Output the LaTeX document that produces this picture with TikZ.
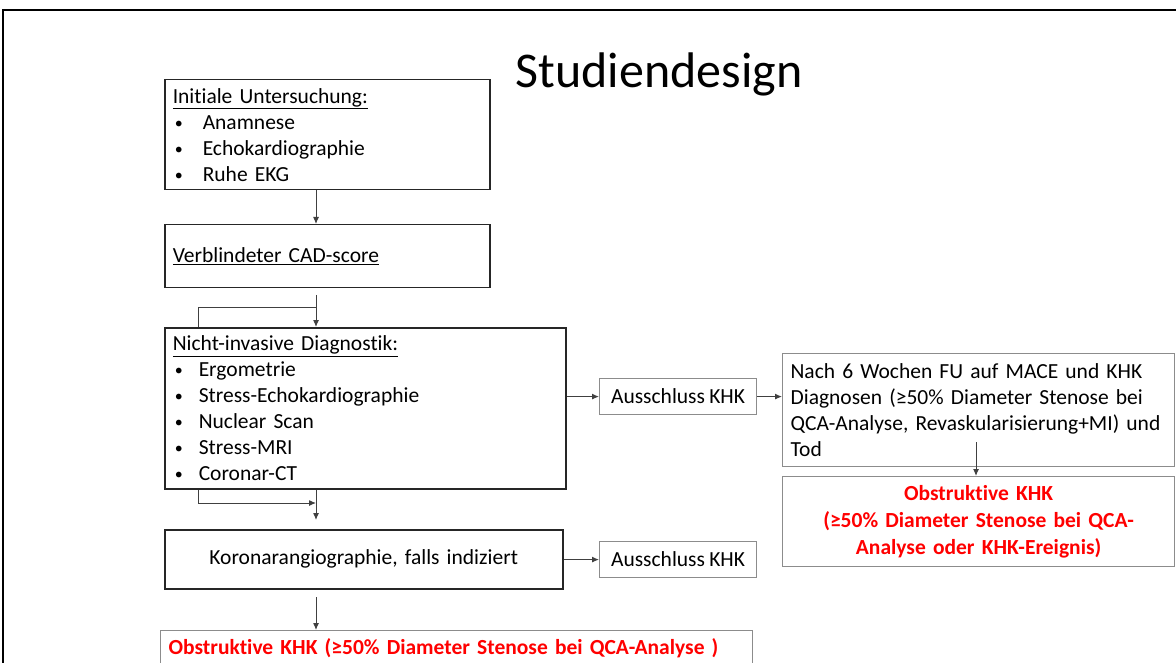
\documentclass[tikz,border=0pt]{standalone}
\usepackage{fontspec}
\setmainfont[Ligatures=NoCommon, WordSpace=0.88]{Carlito}
\usetikzlibrary{positioning, calc, arrows.meta}
\definecolor{boxgray}{HTML}{8C8C8C}
\definecolor{linegray}{HTML}{404040}
\definecolor{khkred}{HTML}{FF0000}
\tikzstyle{Box} = [draw=black!85, line width=1.5pt, anchor=north west, align=left,
inner xsep=8pt, inner ysep=0pt, font=\fontsize{21.5}{26}\selectfont]
\tikzstyle{GrayBox} = [Box, draw=boxgray, line width=1.2pt]
\tikzstyle{RedText} = [text=khkred, font=\fontsize{21.5}{27}\selectfont\bfseries]
\tikzstyle{Arrow} = [draw=linegray, line width=1pt, -{Latex[length=7pt, width=6pt]}]
\tikzstyle{Line} = [draw=linegray, line width=1pt]
\newcommand{\bul}[2][30pt]{\makebox[#1][l]{\hspace*{2pt}\raisebox{1pt}{\fontsize{16}{16}\selectfont\textbullet}}#2}

\begin{document}
\begin{tikzpicture}[x=1pt, y=-1pt]
    \clip (0,0) rectangle (1176,663);
    \draw[line width=2pt] (3,663) -- (3,10) -- (1176,10);
    \node[anchor=base, font=\fontsize{50}{60}\selectfont] (0) at (659,88) {Studiendesign};

    \node[Box, text width=309pt, minimum width=325pt, minimum height=110pt] (1) at (164,79)
        {\underline{Initiale Untersuchung:}\\ \bul{Anamnese}\\ \bul{Echokardiographie}\\ \bul{Ruhe EKG}};
    \node[Box, text width=309pt, minimum width=325pt, minimum height=63pt] (2) at (164,224)
        {\underline{Verblindeter CAD-score}};
    \node[Box, text width=385pt, minimum width=401pt, minimum height=161pt] (3) at (164,327)
        {\underline{Nicht-invasive Diagnostik:}\\ \bul[26pt]{Ergometrie}\\ \bul[26pt]{Stress-Echokardiographie}\\
        \bul[26pt]{Nuclear Scan}\\ \bul[26pt]{Stress-MRI}\\ \bul[26pt]{Coronar-CT}};
    \node[Box, align=center, text width=382pt, minimum width=398pt, minimum height=59pt] (4) at (164,529)
        {Koronarangiographie, falls indiziert};
    \node[GrayBox, RedText, text width=576pt, minimum width=592pt, minimum height=36pt] (5) at (160,630)
        {Obstruktive KHK (≥50\% Diameter Stenose bei QCA-Analyse )};
    \node[GrayBox, minimum width=157pt, minimum height=36pt] (6) at (599,378) {Ausschluss KHK};
    \node[GrayBox, minimum width=157pt, minimum height=36pt] (7) at (599,541) {Ausschluss KHK};
    \node[GrayBox, text width=376pt, minimum width=392pt, minimum height=113pt] (8) at (782,353)
        {Nach 6 Wochen FU auf MACE und KHK\\ Diagnosen (≥50\% Diameter Stenose bei\\
        QCA-Analyse, Revaskularisierung+MI) und\\ Tod};
    \node[GrayBox, RedText, align=center, text width=376pt, minimum width=392pt, minimum height=90pt] (9) at (782,476)
        {Obstruktive KHK\\ (≥50\% Diameter Stenose bei QCA-\\ Analyse oder KHK-Ereignis)};

    \coordinate (c) at (316,0);
    \coordinate (a1) at (316,295);
    \coordinate (k1) at (198,307);
    \coordinate (k2) at (198,503);
    \coordinate (a2) at (316,520);
    \coordinate (a3) at (316,597);
    \coordinate (a4) at (976,442);

    \draw[Arrow] (1.south -| c) -- (2.north -| c);
    \draw[Arrow] (a1) -- (3.north -| a1);
    \draw[Line] (3.north -| k1) -- (k1) -- (k1 -| a1);
    \draw[Arrow] (3.south -| k2) |- (k2 -| a2);
    \draw[Arrow] (3.south -| a2) -- (a2);
    \draw[Arrow] (a3) -- (5.north -| a3);
    \draw[Arrow] (6.west -| 3.east) -- (6.west);
    \draw[Arrow] (6.east) -- (6.east -| 8.west);
    \draw[Arrow] (7.west -| 4.east) -- (7.west);
    \draw[Arrow] (a4) -- (9.north -| a4);
\end{tikzpicture}
\end{document}
